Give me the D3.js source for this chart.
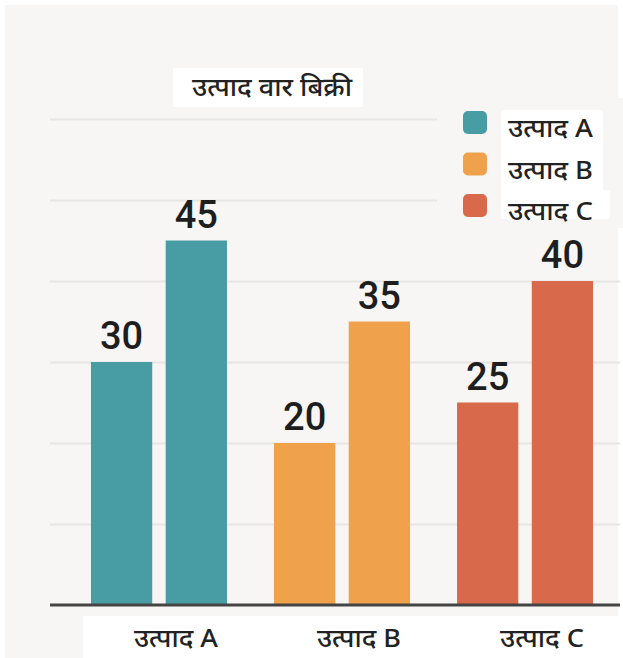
<!DOCTYPE html>
<html>
<head>
<meta charset="utf-8">
<script src="https://cdn.jsdelivr.net/npm/d3@7"></script>
<style>
  html, body { margin: 0; padding: 0; background: #ffffff; }
  svg { display: block; }
  .deva { font-family: "Noto Sans Devanagari", "Noto Sans", "Lato", sans-serif; fill: #222; font-weight: 500; }
</style>
</head>
<body>
<div id="chart"></div>
<script>
var width = 623;
var height = 658;

// data
var groups = ['उत्पाद A', 'उत्पाद B', 'उत्पाद C'];
var series = ['s1', 's2'];
var values1 = [30, 20, 25];
var values2 = [45, 35, 40];
var legendLabels = ['उत्पाद A', 'उत्पाद B', 'उत्पाद C'];
var colors = ['#489ca3', '#f0a14b', '#d9694b'];
var gridTicks = [10, 20, 30, 40, 50, 60];
var title = 'उत्पाद वार बिक्री';

var svg = d3.select('#chart').append('svg')
    .attr('width', width)
    .attr('height', height);

// page background
svg.append('rect')
    .attr('x', 5).attr('y', 5)
    .attr('width', width - 10).attr('height', height - 5)
    .attr('fill', '#f7f6f4');

var x0 = d3.scaleBand()
    .domain(groups)
    .range([63.5, 620.5])
    .paddingInner(0.257)
    .paddingOuter(0.15);

var x1 = d3.scaleBand()
    .domain(series)
    .range([0, x0.bandwidth()])
    .paddingInner(0.18);

var y = d3.scaleLinear()
    .domain([0, 60])
    .range([605, 119]);

// grid lines
var grid = svg.append('g')
    .attr('transform', 'translate(50,0)')
    .call(d3.axisLeft(y).tickValues(gridTicks).tickSize(-570).tickFormat(''));
grid.select('.domain').remove();
grid.selectAll('.tick line')
    .attr('stroke', '#e7e6e3')
    .attr('stroke-width', 2);

// legend area hides the upper grid lines
svg.append('rect')
    .attr('x', 437).attr('y', 98)
    .attr('width', 186).attr('height', 130)
    .attr('fill', '#f7f6f4');

// title
svg.append('rect')
    .attr('x', 173).attr('y', 68)
    .attr('width', 190).attr('height', 39)
    .attr('fill', '#ffffff');
svg.append('text')
    .attr('class', 'deva')
    .attr('x', 192)
    .attr('y', 96)
    .attr('font-size', 26)
    .attr('textLength', 160)
    .attr('lengthAdjust', 'spacingAndGlyphs')
    .text(title);

// bars
var rows = groups.map(function (g, i) {
    return { group: g, color: colors[i], vals: [values1[i], values2[i]] };
});

var gBars = svg.selectAll('.grp')
    .data(rows)
    .enter()
    .append('g')
    .attr('class', 'grp')
    .attr('transform', function (d) { return 'translate(' + x0(d.group) + ',0)'; });

gBars.selectAll('rect')
    .data(function (d) {
        return d.vals.map(function (v, j) { return { key: series[j], v: v, color: d.color }; });
    })
    .enter()
    .append('rect')
    .attr('x', function (d) { return x1(d.key); })
    .attr('y', function (d) { return y(d.v); })
    .attr('width', x1.bandwidth())
    .attr('height', function (d) { return y(0) - y(d.v); })
    .attr('fill', function (d) { return d.color; });

gBars.selectAll('text')
    .data(function (d) {
        return d.vals.map(function (v, j) { return { key: series[j], v: v }; });
    })
    .enter()
    .append('text')
    .attr('x', function (d) { return x1(d.key) + x1.bandwidth() / 2; })
    .attr('y', function (d) { return y(d.v) - 13; })
    .attr('text-anchor', 'middle')
    .attr('font-family', 'Roboto, sans-serif')
    .attr('font-weight', 500)
    .attr('font-size', 38)
    .attr('fill', '#1e1e1e')
    .text(function (d) { return d.v; });

// white strip under the axis
svg.append('rect')
    .attr('x', 83).attr('y', 616)
    .attr('width', width - 83).attr('height', height - 616)
    .attr('fill', '#ffffff');

// x axis
var xAxis = svg.append('g')
    .attr('transform', 'translate(0,' + y(0) + ')')
    .call(d3.axisBottom(x0).tickSize(0).tickPadding(28));
xAxis.select('.domain')
    .attr('d', 'M50,0H620')
    .attr('stroke', '#444')
    .attr('stroke-width', 3);
xAxis.selectAll('.tick text')
    .attr('class', 'deva')
    .attr('dx', 17)
    .attr('dy', '0.55em')
    .attr('font-size', 25)
    .style('font-family', '"Noto Sans Devanagari", "Noto Sans", "Lato", sans-serif')
    .attr('textLength', 84)
    .attr('lengthAdjust', 'spacingAndGlyphs')
    .attr('fill', '#222');

// legend
svg.append('rect')
    .attr('x', 501).attr('y', 110)
    .attr('width', 102).attr('height', 109)
    .attr('fill', '#ffffff');
svg.append('rect')
    .attr('x', 501).attr('y', 190)
    .attr('width', 109).attr('height', 29)
    .attr('fill', '#ffffff');

var legend = svg.selectAll('.leg')
    .data(legendLabels)
    .enter()
    .append('g')
    .attr('class', 'leg')
    .attr('transform', function (d, i) { return 'translate(463,' + (111 + i * 41.5) + ')'; });

legend.append('rect')
    .attr('width', 24)
    .attr('height', 23)
    .attr('rx', 5)
    .attr('fill', function (d, i) { return colors[i]; });

legend.append('text')
    .attr('class', 'deva')
    .attr('x', 45)
    .attr('y', 26)
    .attr('font-size', 25)
    .attr('textLength', 85)
    .attr('lengthAdjust', 'spacingAndGlyphs')
    .text(function (d) { return d; });
</script>
</body>
</html>
